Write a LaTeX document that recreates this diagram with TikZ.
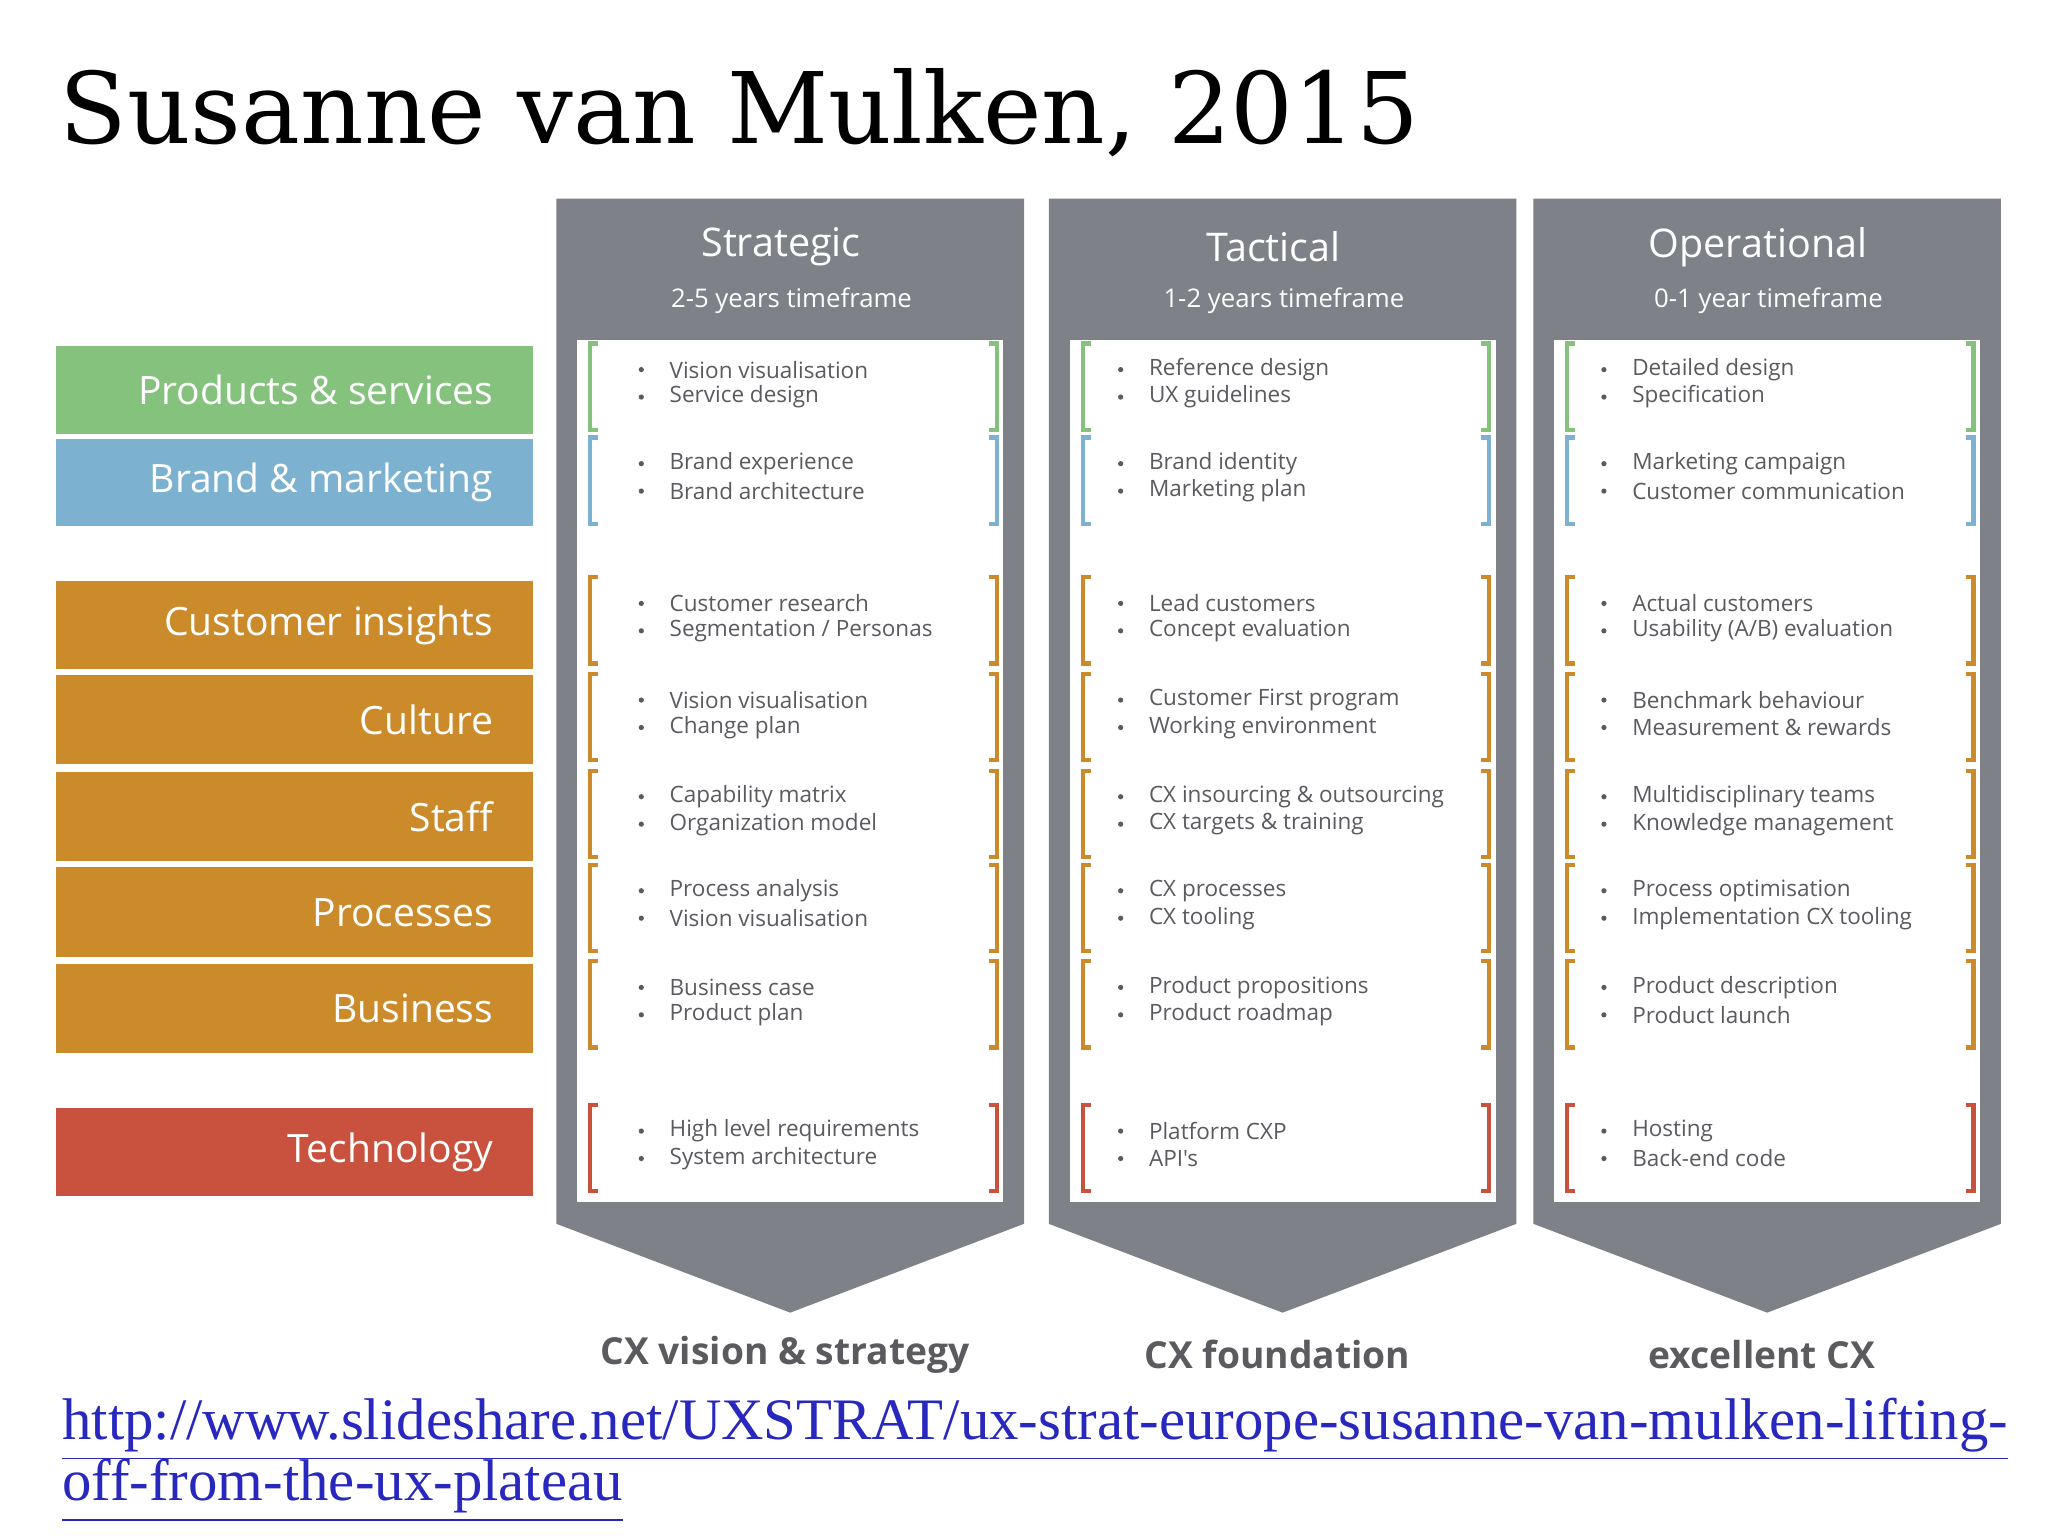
\documentclass[tikz,border=0pt]{standalone}
\usepackage{fontspec}
\newfontfamily\os{Open Sans}
\newfontfamily\ttl{DejaVu Serif}
\newfontfamily\url{Liberation Serif}
\definecolor{cgreen}{RGB}{132,194,126}
\definecolor{cblue}{RGB}{124,178,208}
\definecolor{corange}{RGB}{203,139,42}
\definecolor{cred}{RGB}{200,82,62}
\definecolor{cgray}{RGB}{126,129,136}
\definecolor{ctext}{RGB}{90,90,95}
\definecolor{clink}{RGB}{40,40,190}
\tikzset{
 bar/.style={anchor=east,text=white,font=\os\fontsize{8.5}{10}\selectfont},
 hdr/.style={text=white,font=\os\fontsize{8.6}{10}\selectfont},
 sub/.style={text=white,font=\os\fontsize{5.6}{7}\selectfont},
 itm/.style={anchor=west,text=ctext,font=\os\fontsize{4.9}{6}\selectfont,inner sep=0pt},
 foot/.style={text=ctext,font=\os\bfseries\fontsize{8.1}{10}\selectfont},
 brk/.style={line width=0.9pt}
}
\begin{document}
\begin{tikzpicture}[x=0.01cm,y=-0.01cm]
\useasboundingbox (0,0) rectangle (1568,1176);
\fill[white] (0,0) rectangle (1568,1176);
\node[anchor=base west,inner sep=0pt,font=\ttl\fontsize{21.5}{24}\selectfont] (title) at (45,110) {Susanne van Mulken, 2015};
% left bars
\foreach \t/\b/\c/\lab [count=\i] in {265/332/cgreen/Products \& services,336/403/cblue/Brand \& marketing,445/512/corange/Customer insights,517/585/corange/Culture,591/659/corange/Staff,664/733/corange/Processes,738/806/corange/Business,848/916/cred/Technology}{
 \fill[\c] (43,\t) rectangle (408,\b);
 \node[bar] (bar\i) at (390,{(\t+\b)/2}) {\lab};
}
% columns
\foreach \L/\h/\s/\f [count=\k] in {426/Strategic/2-5 years timeframe/CX vision \& strategy,803/Tactical/1-2 years timeframe/CX foundation,1174/Operational/0-1 year timeframe/excellent CX}{
 \fill[cgray] (\L,152) -- (\L+358,152) -- (\L+358,937) -- (\L+179,1005) -- (\L,937) -- cycle;
 \fill[white] (\L+16,260) rectangle (\L+342,920);
 \node[hdr] (h\k) at (\L+172,189) {\h};
 \node[sub] (s\k) at (\L+180,230) {\s};
 \node[foot] (f\k) at (\L+175,1037) {\f};
 \foreach \t/\c [count=\r] in {263/cgreen,335/cblue,442/corange,516/corange,590/corange,662/corange,736/corange,846/cred}{
  \draw[brk,\c] (\L+32,\t) -- (\L+26,\t) -- (\L+26,\t+66) -- (\L+32,\t+66);
  \draw[brk,\c] (\L+331,\t) -- (\L+337,\t) -- (\L+337,\t+66) -- (\L+331,\t+66);
 }
}
% items
\foreach \L/\bx/\lst [count=\k] in {426/65/{Vision visualisation/Service design,Brand experience/Brand architecture,Customer research/{Segmentation / Personas},Vision visualisation/Change plan,Capability matrix/Organization model,Process analysis/Vision visualisation,Business case/Product plan,High level requirements/System architecture},
 803/55/{Reference design/UX guidelines,Brand identity/Marketing plan,Lead customers/Concept evaluation,Customer First program/Working environment,CX insourcing \& outsourcing/CX targets \& training,CX processes/CX tooling,Product propositions/Product roadmap,Platform CXP/API's},
 1174/54/{Detailed design/Specification,Marketing campaign/Customer communication,Actual customers/{Usability (A/B) evaluation},Benchmark behaviour/Measurement \& rewards,Multidisciplinary teams/Knowledge management,Process optimisation/Implementation CX tooling,Product description/Product launch,Hosting/Back-end code}}{
 \foreach \t [count=\r] in {263,335,442,516,590,662,736,846}{
  \pgfmathsetmacro\ya{\t+20}\pgfmathsetmacro\yb{\t+41}
  \fill[ctext] (\L+\bx,\ya) circle (2); \fill[ctext] (\L+\bx,\yb) circle (2);
 }
 \foreach \a/\bb [count=\r] in \lst {
  \pgfmathsetmacro\tt{{263,335,442,516,590,662,736,846}[\r-1]}
  \node[itm] (i\k-\r a) at (\L+\bx+21,\tt+20) {\a};
  \node[itm] (i\k-\r b) at (\L+\bx+21,\tt+41) {\bb};
 }
}
\node[anchor=base west,inner sep=0pt,text=clink,font=\url\fontsize{12.8}{14}\selectfont] (u1) at (47,1102) {\underline{http://www.slideshare.net/UXSTRAT/ux-strat-europe-susanne-van-mulken-lifting-}};
\node[anchor=base west,inner sep=0pt,text=clink,font=\url\fontsize{12.8}{14}\selectfont] (u2) at (47,1149) {\underline{off-from-the-ux-plateau}};
\end{tikzpicture}
\end{document}
